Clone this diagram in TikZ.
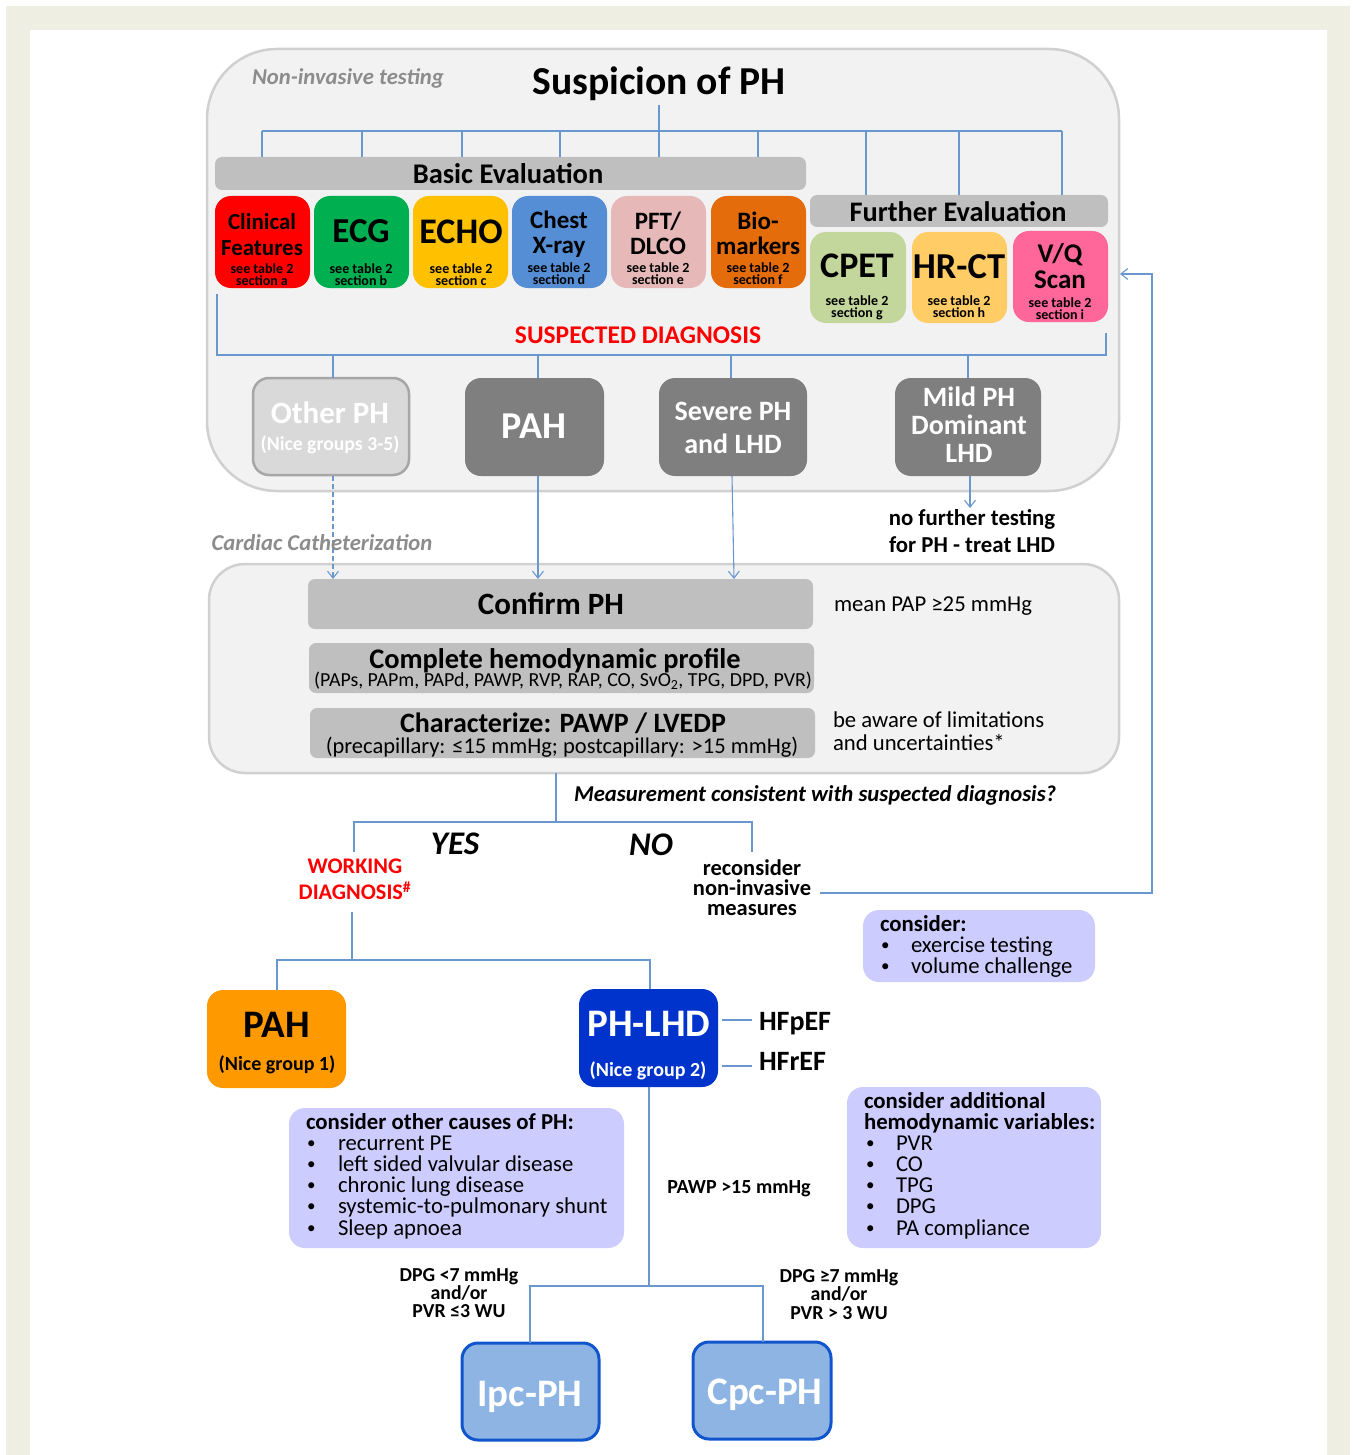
\documentclass[tikz,border=0pt]{standalone}
\usepackage{fontspec}
\setmainfont{Carlito}
\usetikzlibrary{arrows.meta}
\definecolor{frame}{HTML}{EEEEE2}
\definecolor{panel}{HTML}{F2F2F2}
\definecolor{panelb}{HTML}{D0D0D0}
\definecolor{bar}{HTML}{BFBFBF}
\definecolor{dark}{HTML}{7F7F7F}
\definecolor{lil}{HTML}{CCCCFF}
\definecolor{lnk}{HTML}{6A97CE}
\definecolor{capt}{HTML}{8C8C8C}
\definecolor{ca}{HTML}{FF0000}\definecolor{cgr}{HTML}{00B050}\definecolor{cy}{HTML}{FFC000}
\definecolor{cb}{HTML}{558ED5}\definecolor{cc}{HTML}{E6B9B8}\definecolor{cd}{HTML}{E46C0A}
\definecolor{ce}{HTML}{C3D69B}\definecolor{cf}{HTML}{FFCC66}\definecolor{cg}{HTML}{FF6699}
\definecolor{pahc}{HTML}{FF9900}\definecolor{lhdc}{HTML}{0033CC}\definecolor{ipc}{HTML}{8DB4E2}
\definecolor{ipcl}{HTML}{1155CC}
\newcounter{tc}
\newcommand{\pbox}[6]{%
  \pgfmathsetmacro{\cxx}{(#2+#4)/2}\pgfmathsetmacro{\cyy}{(#3+#5)/2}%
  \pgfmathsetmacro{\ww}{#4-#2}\pgfmathsetmacro{\hh}{#5-#3}%
  \node[#6,minimum width=\ww pt,minimum height=\hh pt] (#1) at (\cxx,\cyy) {};}
% \tl{x}{y}{size}{options}{text}
\newcommand{\tl}[5]{\stepcounter{tc}%
  \pgfmathsetmacro{\th}{0.55*#3}\pgfmathsetmacro{\td}{0.21*#3}\pgfmathsetmacro{\ys}{-0.17*#3}%
  \node[inner sep=0pt,outer sep=0pt,text height=\th pt,text depth=\td pt,yshift=\ys pt,font=\fontsize{#3}{#3}\selectfont,#4] (t\thetc) at (#1,#2) {#5};}
\newcommand{\bt}[4]{\tl{#1}{#2}{#3}{}{\bfseries #4}}
\newcommand{\wt}[4]{\tl{#1}{#2}{#3}{text=white}{\bfseries #4}}
\newcommand{\lt}[4]{\tl{#1}{#2}{#3}{anchor=west}{\bfseries #4}}
\newcommand{\bul}[2]{\tl{#1}{#2}{17}{anchor=west}{•}}
\tikzset{
  rb/.style={inner sep=0pt,outer sep=0pt,rounded corners=#1},
  rb/.default=16pt,
  card/.style={rb=16pt,fill=#1},
  barbox/.style={rb=7pt,fill=bar},
  darkbox/.style={rb=16pt,fill=dark},
  panelbox/.style={rb=#1,fill=panel,draw=panelb,line width=2.5pt},
  lilbox/.style={rb=16pt,fill=lil},
  sumbox/.style={rb=16pt,fill=#1,draw=ipcl,line width=3pt},
  lk/.style={draw=lnk,line width=1.1pt},
  ar/.style={lk,-{Straight Barb[length=7pt,width=11pt,line width=1.1pt]}},
}
\begin{document}
\begin{tikzpicture}[x=1pt,y=-1pt]
\useasboundingbox (0,0) rectangle (1352,1455);
\fill[frame] (6,6) rectangle (1350,1455);
\fill[white] (30,30) rectangle (1327,1455);
% panels
\pbox{panelA}{207}{49}{1119}{491}{panelbox=70pt}
\pbox{panelB}{209}{564}{1119}{773}{panelbox=36pt}
% bars
\pbox{basic}{215}{157}{806}{190}{barbox}
\pbox{further}{810}{195}{1108}{227}{barbox}
\pbox{confirm}{308}{579}{813}{629}{barbox}
\pbox{complete}{309}{643}{814}{693}{barbox}
\pbox{charact}{310}{708}{815}{758}{barbox}
% cards
\pbox{c1}{215}{196}{310}{288}{card=ca}
\pbox{c2}{314}{196}{409}{288}{card=cgr}
\pbox{c3}{413}{196}{508}{288}{card=cy}
\pbox{c4}{512}{196}{607}{288}{card=cb}
\pbox{c5}{611}{196}{706}{288}{card=cc}
\pbox{c6}{711}{196}{806}{288}{card=cd}
\pbox{c7}{810}{232}{906}{323}{card=ce}
\pbox{c8}{912}{232}{1007}{323}{card=cf}
\pbox{c9}{1013}{231}{1108}{322}{card=cg}
% second row
\pbox{other}{253}{378}{409}{475}{rb=16pt,fill=black!15,draw=black!35,line width=2.5pt}
\pbox{pah}{465}{378}{604}{476}{darkbox}
\pbox{severe}{659}{378}{807}{476}{darkbox}
\pbox{mild}{895}{378}{1041}{476}{darkbox}
% lilac
\pbox{cons}{863}{910}{1095}{982}{lilbox}
\pbox{causes}{289}{1108}{624}{1248}{lilbox}
\pbox{addl}{847}{1087}{1101}{1248}{lilbox}
% diagnosis boxes
\pbox{pahd}{207}{990}{346}{1088}{card=pahc}
\pbox{lhd}{579}{989}{718}{1087}{card=lhdc}
\pbox{ipcb}{462}{1343}{599}{1440}{sumbox=ipc}
\pbox{cpcb}{693}{1342}{831}{1439}{sumbox=ipc}
% top bus
\foreach \n/\x in {a/262,b/362,c/462,d/560,e/659,f/758,g/866,h/959,i/1062} \coordinate (bus\n) at (\x,131);
\coordinate (stem) at (659,105);
\draw[lk] (stem) -- (buse);
\draw[lk] (busa) -- (busi);
\foreach \n in {a,b,c,d,e,f} \draw[lk] (bus\n) -- (bus\n |- basic.north);
\foreach \n in {g,h,i} \draw[lk] (bus\n) -- (bus\n |- further.north);
% suspected bus
\coordinate (sl) at (217,294); \coordinate (sr) at (1106,333);
\coordinate (sbl) at (217,355); \coordinate (sbr) at (1106,355);
\draw[lk] (sl) -- (sbl) -- (sbr) -- (sr);
\foreach \n/\x in {other/333,pah/538,severe/731,mild/968}
  \draw[lk] (\x,355) -- (\x,355 |- \n.north);
% to catheterization
\coordinate (ao) at (333,476);
\draw[ar,dash pattern=on 5pt off 3pt] (ao) -- (ao |- confirm.north);
\coordinate (ap) at (538,476);
\draw[ar] (ap) -- (ap |- confirm.north);
\coordinate (as) at (732,476); \coordinate (ase) at (734,579);
\draw[ar] (as) -- (ase);
\coordinate (am) at (970,476); \coordinate (ame) at (970,508);
\draw[ar] (am) -- (ame);
% decision
\coordinate (d0) at (556,773); \coordinate (d1) at (556,822);
\coordinate (dl) at (354,822); \coordinate (dr) at (752,822);
\coordinate (dle) at (354,852); \coordinate (dre) at (752,852);
\draw[lk] (d0) -- (d1);
\draw[lk] (dle) -- (dl) -- (dr) -- (dre);
% feedback
\coordinate (f0) at (820,893); \coordinate (f1) at (1152,893);
\coordinate (f2) at (1152,274); \coordinate (f3) at (1120,274);
\draw[ar] (f0) -- (f1) -- (f2) -- (f3);
% working diagnosis
\coordinate (w0) at (352,912); \coordinate (w1) at (352,960);
\coordinate (wl) at (277,960); \coordinate (wr) at (650,960);
\draw[lk] (w0) -- (w1);
\draw[lk] (pahd.north -| wl) -- (wl) -- (wr) -- (lhd.north -| wr);
% HF stubs
\coordinate (h1) at (752,1020); \coordinate (h2) at (752,1066);
\draw[lk] (722,1020) -- (h1);
\draw[lk] (722,1066) -- (h2);
% lower tree
\coordinate (l0) at (649,1087); \coordinate (l1) at (649,1286);
\coordinate (ll) at (530,1286); \coordinate (lr) at (763,1286);
\draw[lk] (l0) -- (l1);
\draw[lk] (ipcb.north -| ll) -- (ll) -- (lr) -- (cpcb.north -| lr);
% TEXT
\bt{659}{81}{39.6}{Suspicion of PH}
\tl{348}{77}{22.7}{text=capt}{\bfseries\itshape Non-invasive testing}
\bt{508}{174}{28.5}{Basic Evaluation}
\bt{958}{212}{28.3}{Further Evaluation}
\bt{262}{222}{23}{Clinical}\bt{262}{248}{23}{Features}\bt{262}{269}{14}{see table 2}\bt{262}{281}{14}{section a}
\bt{361}{231}{35}{ECG}\bt{361}{269}{14}{see table 2}\bt{361}{281}{14}{section b}
\bt{461}{231}{36}{ECHO}\bt{461}{269}{14}{see table 2}\bt{461}{281}{14}{section c}
\bt{559}{220}{25}{Chest}\bt{559}{245}{25}{X-ray}\bt{559}{268}{14}{see table 2}\bt{559}{280}{14}{section d}
\bt{658}{221}{25}{PFT/}\bt{658}{246}{25}{DLCO}\bt{658}{268}{14}{see table 2}\bt{658}{280}{14}{section e}
\bt{758}{221}{25}{Bio-}\bt{758}{246}{25}{markers}\bt{758}{268}{14}{see table 2}\bt{758}{280}{14}{section f}
\bt{857}{265}{36}{CPET}\bt{857}{301}{14}{see table 2}\bt{857}{313}{14}{section g}
\bt{959}{266}{36.5}{HR-CT}\bt{959}{301}{14}{see table 2}\bt{959}{313}{14}{section h}
\bt{1060}{253}{27}{V/Q}\bt{1060}{279}{27}{Scan}\bt{1060}{303}{14}{see table 2}\bt{1060}{315}{14}{section i}
\tl{638}{335}{25.5}{text=red}{\bfseries SUSPECTED DIAGNOSIS}
\wt{330}{413}{31}{Other PH}
\wt{330}{444}{19.7}{(Nice groups 3-5)}
\wt{534}{426}{38}{PAH}
\wt{733}{411}{28}{Severe PH}
\wt{733}{444}{28}{and LHD}
\wt{969}{397}{28}{Mild PH}
\wt{969}{425}{28}{Dominant}
\wt{969}{453}{28}{LHD}
\bt{972}{518}{22.8}{no further testing}\bt{972}{545}{22.8}{for PH - treat LHD}
\tl{322}{543}{22.7}{text=capt}{\bfseries\itshape Cardiac Catheterization}
\bt{551}{604}{31}{Confirm PH}
\bt{555}{659}{28.4}{Complete hemodynamic profile}
\tl{563}{680}{19.9}{}{(PAPs, PAPm, PAPd, PAWP, RVP, RAP, CO, SvO\textsubscript{2}, TPG, DPD, PVR)}
\bt{563}{723}{28}{Characterize: PAWP / LVEDP}
\tl{562}{746}{22.5}{}{(precapillary: ≤15 mmHg; postcapillary: >15 mmHg)}
\tl{834}{604}{22.7}{anchor=west}{mean PAP ≥25 mmHg}
\tl{833}{720}{22.7}{anchor=west}{be aware of limitations}
\tl{833}{743}{22.7}{anchor=west}{and uncertainties*}
\tl{574}{794}{22.7}{anchor=west}{\bfseries\itshape Measurement consistent with suspected diagnosis?}
\tl{455}{843}{33}{}{\bfseries\itshape YES}
\tl{651}{844}{33}{}{\bfseries\itshape NO}
\tl{355}{866}{22.3}{text=red}{\bfseries WORKING}
\tl{355}{892}{22.3}{text=red}{\bfseries DIAGNOSIS\textsuperscript{\#}}
\bt{752}{868}{22.5}{reconsider}\bt{752}{888}{22.5}{non-invasive}\bt{752}{908}{22.5}{measures}
\lt{880}{924}{22.8}{consider:}
\bul{881}{945}\tl{911}{945}{22.7}{anchor=west}{exercise testing}
\bul{881}{966}\tl{911}{966}{22.7}{anchor=west}{volume challenge}
\bt{277}{1024}{39}{PAH}
\bt{277}{1064}{20}{(Nice group 1)}
\wt{649}{1023}{39}{PH-LHD}
\wt{648}{1070}{20}{(Nice group 2)}
\lt{759}{1021}{28}{HFpEF}
\lt{759}{1061}{28}{HFrEF}
\lt{306}{1122}{22.8}{consider other causes of PH:}
\foreach \y/\s in {1143/recurrent PE,1164/left sided valvular disease,1185/chronic lung disease,1206/systemic-to-pulmonary shunt,1228/Sleep apnoea}{
  \bul{307}{\y}\tl{338}{\y}{22.7}{anchor=west}{\s}}
\lt{864}{1101}{22.8}{consider additional}
\lt{864}{1122}{22.8}{hemodynamic variables:}
\foreach \y/\s in {1143/PVR,1164/CO,1185/TPG,1206/DPG,1228/PA compliance}{
  \bul{866}{\y}\tl{896}{\y}{22.7}{anchor=west}{\s}}
\bt{739}{1187}{20}{PAWP >15 mmHg}
\bt{459}{1275}{19.8}{DPG <7 mmHg}\bt{459}{1293}{19.8}{and/or}\bt{459}{1311}{19.8}{PVR ≤3 WU}
\bt{839}{1276}{19.8}{DPG ≥7 mmHg}\bt{839}{1294}{19.8}{and/or}\bt{839}{1313}{19.8}{PVR > 3 WU}
\wt{530}{1393}{39}{Ipc-PH}
\wt{765}{1391}{39}{Cpc-PH}
\end{tikzpicture}
\end{document}
